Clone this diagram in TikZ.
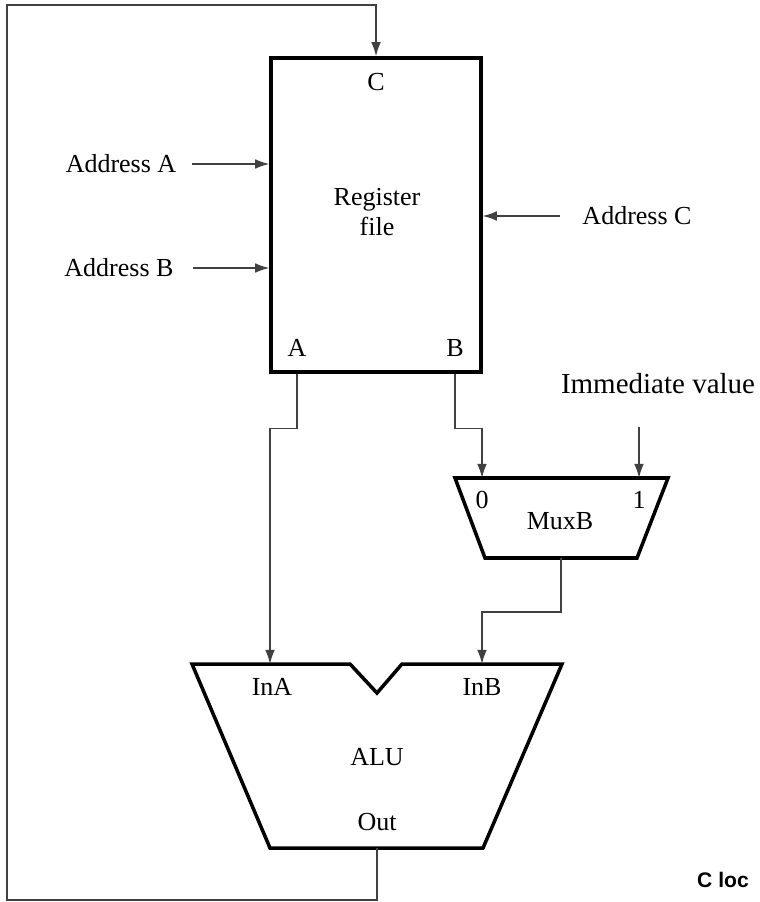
\documentclass[tikz,border=0pt]{standalone}
\usepackage{fontspec}
\setmainfont{Liberation Serif}
\newfontfamily\locfont{Liberation Sans}
\usetikzlibrary{arrows.meta,positioning}

\begin{document}
\begin{tikzpicture}[x=0.02cm,y=-0.02cm,
    font=\fontsize{14.8}{17.5}\selectfont,
    unit/.style={draw,line width=2pt,line join=miter},
    wire/.style={draw=black!75,line width=0.85pt},
    arr/.style={wire,-{Latex[length=8pt,width=5.5pt]}},
    lbl/.style={inner sep=0pt}]
  \useasboundingbox (0,0) rectangle (760,902);

  % register file
  \node[unit,minimum width=4.2cm,minimum height=6.28cm] (rf) at (376,215) {};
  \node[lbl,align=center] (rftext) at (377,212) {Register\\file};
  \node[lbl] (portC) at (376,82) {C};
  \node[lbl] (portA) at (297,348) {A};
  \node[lbl] (portB) at (455,348) {B};

  % address inputs
  \node[lbl] (addrA) at (121,164) {Address A};
  \node[lbl] (addrB) at (119,268) {Address B};
  \node[lbl] (addrC) at (637,216) {Address C};
  \draw[arr] ([xshift=0.3cm]addrA.east) -- (addrA.east -| rf.west);
  \draw[arr] ([xshift=0.38cm]addrB.east) -- (addrB.east -| rf.west);
  \draw[arr] ([xshift=-0.44cm]addrC.west) -- (addrC.west -| rf.east);

  % mux for the B operand
  \coordinate (mux0) at (482,478);
  \coordinate (mux1) at (639,478);
  \coordinate (muxout) at (561,558);
  \draw[unit] (455,478) -- (668,478) -- (637,558) -- (485,558) -- cycle;
  \node[lbl] (zero) at (482,500) {0};
  \node[lbl] (one) at (639,500) {1};
  \node[lbl] (muxB) at (560,521) {MuxB};
  \node[lbl,font=\fontsize{16.5}{19}\selectfont] (imm) at (658,384) {Immediate value};
  \coordinate (immtail) at (639,427);

  % ALU with notch
  \coordinate (aluInA) at (270,664);
  \coordinate (aluInB) at (482,664);
  \coordinate (aluout) at (377,848);
  \draw[unit] (192,664) -- (350,664) -- (377,693) -- (402,664) -- (562,664)
    -- (483,848) -- (270,848) -- cycle;
  \node[lbl] (inA) at (272,687) {InA};
  \node[lbl] (inB) at (482,687) {InB};
  \node[lbl] (alu) at (377,757) {ALU};
  \node[lbl] (out) at (377,822) {Out};

  % data paths
  \draw[arr] (portA |- rf.south) -- ++(0,55) -| (aluInA);
  \draw[arr] (portB |- rf.south) -- ++(0,55) -| (mux0);
  \draw[arr] (immtail) -- (mux1);
  \draw[arr] (muxout) -- ++(0,54) -| (aluInB);
  \draw[arr] (aluout) -- ++(0,52) -| (7,5) -| (rf.north);

  \node[lbl,font=\locfont\bfseries\fontsize{12}{14}\selectfont] (cloc) at (723,880) {C loc};
\end{tikzpicture}
\end{document}
